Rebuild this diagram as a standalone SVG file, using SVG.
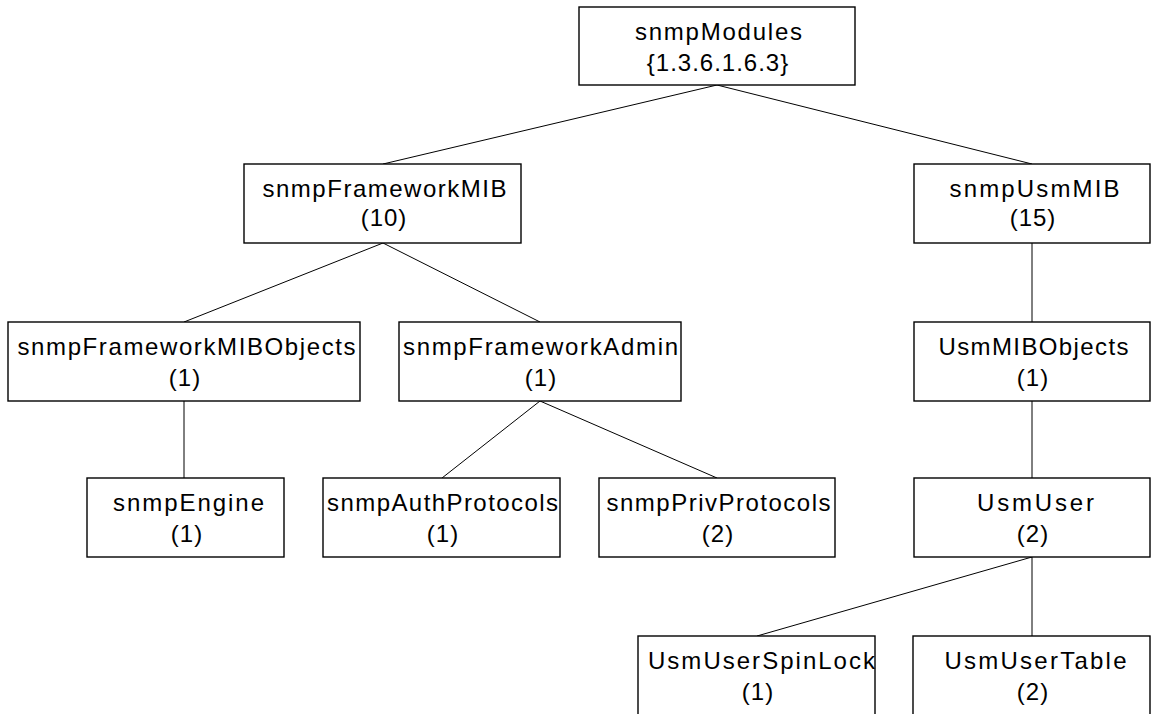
<svg xmlns="http://www.w3.org/2000/svg" width="1151" height="714" viewBox="0 0 1151 714">
<style>
.box{fill:#fff;stroke:#000;stroke-width:1.4}
.c{stroke:#000;stroke-width:1;fill:none}
text{font-family:"Liberation Sans",Arial,sans-serif;font-size:24px;fill:#000;text-anchor:middle;letter-spacing:1px}
</style>
<rect width="1151" height="714" fill="#fff"/>
<g id="connectors">
<line class="c" x1="717" y1="85" x2="383" y2="164"/>
<line class="c" x1="717" y1="85" x2="1032" y2="164"/>
<line class="c" x1="383" y1="243" x2="184" y2="322"/>
<line class="c" x1="383" y1="243" x2="540" y2="322"/>
<line class="c" x1="1032" y1="243" x2="1032" y2="322"/>
<line class="c" x1="184" y1="401" x2="184" y2="478"/>
<line class="c" x1="540" y1="401" x2="442" y2="478"/>
<line class="c" x1="540" y1="401" x2="717" y2="478"/>
<line class="c" x1="1032" y1="401" x2="1032" y2="478"/>
<line class="c" x1="1032" y1="557" x2="757" y2="636"/>
<line class="c" x1="1032" y1="557" x2="1032" y2="636"/>
</g>
<g id="snmpModules">
<rect class="box" x="579" y="7" width="276" height="78"/>
<text x="719" y="40" textLength="168" lengthAdjust="spacing">snmpModules</text>
<text x="718" y="71">{1.3.6.1.6.3}</text>
</g>
<g id="snmpFrameworkMIB">
<rect class="box" x="244" y="164" width="277" height="79"/>
<text x="385" y="197" textLength="245" lengthAdjust="spacing">snmpFrameworkMIB</text>
<text x="384" y="226">(10)</text>
</g>
<g id="snmpUsmMIB">
<rect class="box" x="914" y="164" width="236" height="79"/>
<text x="1035" y="197" textLength="171" lengthAdjust="spacing">snmpUsmMIB</text>
<text x="1033" y="226">(15)</text>
</g>
<g id="snmpFrameworkMIBObjects">
<rect class="box" x="8" y="322" width="352" height="79"/>
<text x="187" y="355" textLength="339" lengthAdjust="spacing">snmpFrameworkMIBObjects</text>
<text x="185" y="386">(1)</text>
</g>
<g id="snmpFrameworkAdmin">
<rect class="box" x="399" y="322" width="282" height="79"/>
<text x="541" y="355" textLength="276" lengthAdjust="spacing">snmpFrameworkAdmin</text>
<text x="541" y="386">(1)</text>
</g>
<g id="UsmMIBObjects">
<rect class="box" x="914" y="322" width="236" height="79"/>
<text x="1034" y="355" textLength="191" lengthAdjust="spacing">UsmMIBObjects</text>
<text x="1033" y="386">(1)</text>
</g>
<g id="snmpEngine">
<rect class="box" x="87" y="478" width="197" height="79"/>
<text x="189" y="511" textLength="152" lengthAdjust="spacing">snmpEngine</text>
<text x="187" y="542">(1)</text>
</g>
<g id="snmpAuthProtocols">
<rect class="box" x="323" y="478" width="237" height="79"/>
<text x="443" y="511" textLength="232" lengthAdjust="spacing">snmpAuthProtocols</text>
<text x="443" y="542">(1)</text>
</g>
<g id="snmpPrivProtocols">
<rect class="box" x="599" y="478" width="236" height="79"/>
<text x="719" y="511" textLength="225" lengthAdjust="spacing">snmpPrivProtocols</text>
<text x="718" y="542">(2)</text>
</g>
<g id="UsmUser">
<rect class="box" x="914" y="478" width="236" height="79"/>
<text x="1036" y="511" textLength="118" lengthAdjust="spacing">UsmUser</text>
<text x="1033" y="542">(2)</text>
</g>
<g id="UsmUserSpinLock">
<rect class="box" x="638" y="636" width="237" height="90"/>
<text x="762" y="669" textLength="228" lengthAdjust="spacing">UsmUserSpinLock</text>
<text x="758" y="700">(1)</text>
</g>
<g id="UsmUserTable">
<rect class="box" x="913" y="636" width="237" height="90"/>
<text x="1036" y="669" textLength="183" lengthAdjust="spacing">UsmUserTable</text>
<text x="1033" y="700">(2)</text>
</g>
</svg>
